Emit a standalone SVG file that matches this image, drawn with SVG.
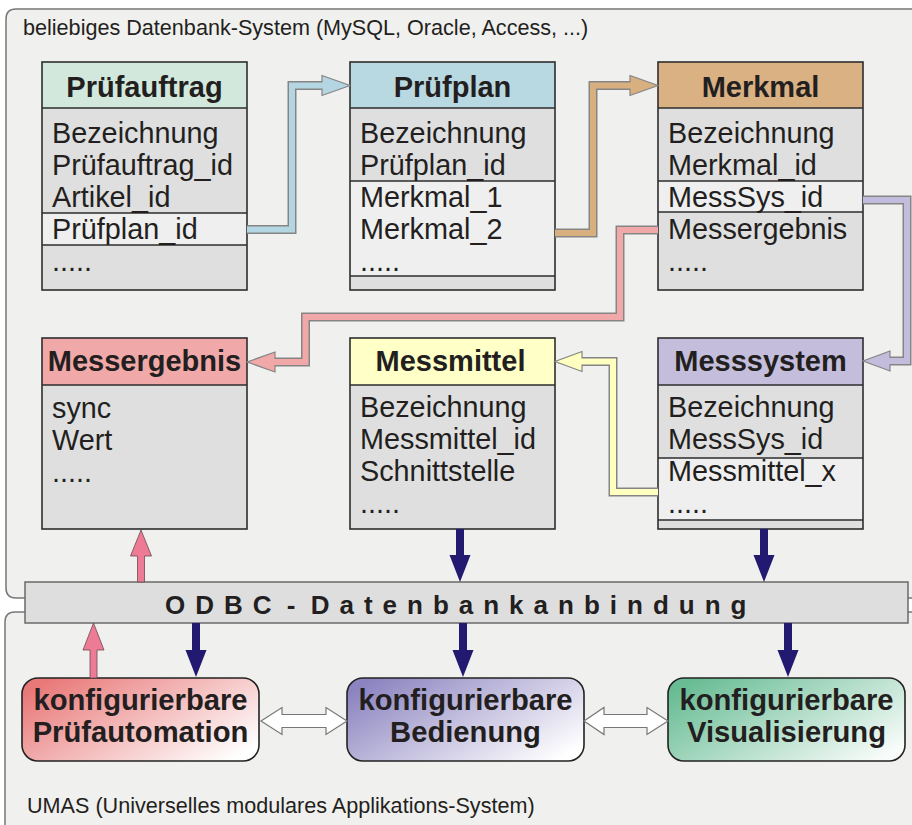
<svg xmlns="http://www.w3.org/2000/svg" width="912" height="825" viewBox="0 0 912 825">
<defs>
<style>
text{font-family:"Liberation Sans",Arial,sans-serif;fill:#231f20}
.lbl{font-size:21.6px}
.hd{font-size:29px;font-weight:bold;text-anchor:middle}
.row{font-size:28.8px}
.bx{font-size:29.2px;font-weight:bold;text-anchor:middle}
.odbc{font-size:26px;font-weight:bold;letter-spacing:10px;word-spacing:-12px}
.tb{stroke:#2e2e2e;stroke-width:1.6}
.body{fill:#dfdfdf}
.hl{fill:#efefef}
.div{stroke:#2e2e2e;stroke-width:1.3;fill:none}
.cont{fill:#f0f0ee;stroke:#777;stroke-width:1.5}
.po{fill:none;stroke:#858585;stroke-width:9;stroke-linejoin:miter}
.pi{fill:none;stroke-width:6;stroke-linejoin:miter}
.ah{stroke:#858585;stroke-width:1.2;stroke-linejoin:miter}
.navy{fill:#221a70}
.pink{fill:#ee7b95;stroke:#6a4a50;stroke-width:0.8}
.dbl{fill:#ffffff;stroke:#777;stroke-width:1.2}
.rb{stroke:#222;stroke-width:1.6}
</style>
<linearGradient id="gRed" x1="0" y1="0.2" x2="1" y2="0.8"><stop offset="0" stop-color="#e97878"/><stop offset="1" stop-color="#ffffff"/></linearGradient>
<linearGradient id="gBlue" x1="0" y1="0.2" x2="1" y2="0.8"><stop offset="0" stop-color="#8c84c0"/><stop offset="1" stop-color="#ffffff"/></linearGradient>
<linearGradient id="gGreen" x1="0" y1="0.2" x2="1" y2="0.8"><stop offset="0" stop-color="#68bc94"/><stop offset="1" stop-color="#f8fcfa"/></linearGradient>
</defs>
<rect width="912" height="825" fill="#ffffff"/>
<g id="container-db">
<path class="cont" d="M6,19 Q6,9 16,9 H925 V598 H16 Q6,598 6,588 Z"/>
<text class="lbl" x="23" y="35">beliebiges Datenbank-System (MySQL, Oracle, Access, ...)</text>
</g>
<g id="container-umas">
<path class="cont" d="M5,622 Q5,612 15,612 H925 V845 H5 Z"/>
<text class="lbl" x="27" y="813">UMAS (Universelles modulares Applikations-System)</text>
</g>
<g id="odbc">
<rect x="25" y="582" width="883" height="41" fill="#dedede" stroke="#6a6a6a" stroke-width="1.5"/>
<text class="odbc" x="165" y="614">ODBC - Datenbankanbindung</text>
</g>
<g id="pruefauftrag">
<rect class="body" x="42" y="62" width="205" height="228"/>
<rect class="hl" x="42" y="213" width="205" height="32"/>
<rect x="42" y="62" width="205" height="46" fill="#d2e8dc"/>
<path class="div" d="M42,108 H247 M42,213 H247 M42,245 H247"/>
<rect class="tb" x="42" y="62" width="205" height="228" fill="none"/>
<text class="hd" x="144.5" y="97">Prüfauftrag</text>
<text class="row" x="52" y="143">Bezeichnung</text>
<text class="row" x="52" y="175">Prüfauftrag_id</text>
<text class="row" x="52" y="207">Artikel_id</text>
<text class="row" x="52" y="239">Prüfplan_id</text>
<text class="row" x="52" y="271">.....</text>
</g>
<g id="pruefplan">
<rect class="body" x="350" y="62" width="205" height="228"/>
<rect class="hl" x="350" y="181" width="205" height="95"/>
<rect x="350" y="62" width="205" height="46" fill="#b8d8e2"/>
<path class="div" d="M350,108 H555 M350,181 H555 M350,276 H555"/>
<rect class="tb" x="350" y="62" width="205" height="228" fill="none"/>
<text class="hd" x="452.5" y="97">Prüfplan</text>
<text class="row" x="360" y="143">Bezeichnung</text>
<text class="row" x="360" y="175">Prüfplan_id</text>
<text class="row" x="360" y="207">Merkmal_1</text>
<text class="row" x="360" y="239">Merkmal_2</text>
<text class="row" x="360" y="271">.....</text>
</g>
<g id="merkmal">
<rect class="body" x="658" y="62" width="205" height="228"/>
<rect class="hl" x="658" y="181" width="205" height="31"/>
<rect x="658" y="62" width="205" height="46" fill="#d9b183"/>
<path class="div" d="M658,108 H863 M658,181 H863 M658,212 H863"/>
<rect class="tb" x="658" y="62" width="205" height="228" fill="none"/>
<text class="hd" x="760.5" y="97">Merkmal</text>
<text class="row" x="668" y="143">Bezeichnung</text>
<text class="row" x="668" y="175">Merkmal_id</text>
<text class="row" x="668" y="207">MessSys_id</text>
<text class="row" x="668" y="239">Messergebnis</text>
<text class="row" x="668" y="271">.....</text>
</g>
<g id="messergebnis">
<rect class="body" x="42" y="338" width="205" height="191"/>
<rect x="42" y="338" width="205" height="47" fill="#f0a8a8"/>
<path class="div" d="M42,385 H247"/>
<rect class="tb" x="42" y="338" width="205" height="191" fill="none"/>
<text class="hd" x="144.5" y="371">Messergebnis</text>
<text class="row" x="52" y="418">sync</text>
<text class="row" x="52" y="450">Wert</text>
<text class="row" x="52" y="482">.....</text>
</g>
<g id="messmittel">
<rect class="body" x="350" y="338" width="205" height="191"/>
<rect x="350" y="338" width="205" height="47" fill="#ffffc8"/>
<path class="div" d="M350,385 H555"/>
<rect class="tb" x="350" y="338" width="205" height="191" fill="none"/>
<text class="hd" x="450.5" y="371">Messmittel</text>
<text class="row" x="360" y="417">Bezeichnung</text>
<text class="row" x="360" y="449">Messmittel_id</text>
<text class="row" x="360" y="481">Schnittstelle</text>
<text class="row" x="360" y="513">.....</text>
</g>
<g id="messsystem">
<rect class="body" x="658" y="338" width="205" height="191"/>
<rect class="hl" x="658" y="458" width="205" height="62"/>
<rect x="658" y="338" width="205" height="47" fill="#c4bedc"/>
<path class="div" d="M658,385 H863 M658,458 H863 M658,520 H863"/>
<rect class="tb" x="658" y="338" width="205" height="191" fill="none"/>
<text class="hd" x="760.5" y="371">Messsystem</text>
<text class="row" x="668" y="417">Bezeichnung</text>
<text class="row" x="668" y="449">MessSys_id</text>
<text class="row" x="668" y="481">Messmittel_x</text>
<text class="row" x="668" y="513">.....</text>
</g>
<g id="pruefautomation">
<rect class="rb" x="22" y="678" width="237" height="83" rx="16" fill="url(#gRed)"/>
<text class="bx" x="140.5" y="710">konfigurierbare</text>
<text class="bx" x="140.5" y="742">Prüfautomation</text>
</g>
<g id="bedienung">
<rect class="rb" x="347" y="678" width="237" height="83" rx="16" fill="url(#gBlue)"/>
<text class="bx" x="465.5" y="710">konfigurierbare</text>
<text class="bx" x="465.5" y="742">Bedienung</text>
</g>
<g id="visualisierung">
<rect class="rb" x="668" y="678" width="237" height="83" rx="16" fill="url(#gGreen)"/>
<text class="bx" x="786.5" y="710">konfigurierbare</text>
<text class="bx" x="786.5" y="742">Visualisierung</text>
</g>
<g id="connectors">
<path class="po" d="M247,229.5 H292 V85.5 H322"/>
<polygon class="ah" fill="#b4d6e2" points="322,75.5 350,85.5 322,95.5"/>
<path class="pi" stroke="#b4d6e2" d="M247,229.5 H292 V85.5 H323.5"/>
<path class="po" d="M555,233 H593 V85.5 H630"/>
<polygon class="ah" fill="#d8b080" points="630,75.5 658,85.5 630,95.5"/>
<path class="pi" stroke="#d8b080" d="M555,233 H593 V85.5 H631.5"/>
<path class="po" d="M658,230 H620 V317 H305.5 V362 H275"/>
<polygon class="ah" fill="#f0a8a8" points="275,352 247,362 275,372"/>
<path class="pi" stroke="#f0a8a8" d="M658,230 H620 V317 H305.5 V362 H273.5"/>
<path class="po" d="M863,200 H907 V361 H890"/>
<polygon class="ah" fill="#c4bcdc" points="890,351 863,361 890,371"/>
<path class="pi" stroke="#c4bcdc" d="M863,200 H907 V361 H888.5"/>
<path class="po" d="M658,492 H613 V361.5 H582"/>
<polygon class="ah" fill="#ffffc0" points="582,351.5 555,361.5 582,371.5"/>
<path class="pi" stroke="#ffffc0" d="M658,492 H613 V361.5 H580.5"/>
<polygon class="navy" points="456,529 464,529 464,555 470.5,555 460,582 449.5,555 456,555"/>
<polygon class="navy" points="760,529 768,529 768,555 774.5,555 764,582 753.5,555 760,555"/>
<polygon class="navy" points="192,623 200,623 200,650 206.5,650 196,677 185.5,650 192,650"/>
<polygon class="navy" points="459,623 467,623 467,650 473.5,650 463,677 452.5,650 459,650"/>
<polygon class="navy" points="784,623 792,623 792,650 798.5,650 788,677 777.5,650 784,650"/>
<polygon class="pink" points="137.5,582 144.5,582 144.5,556 151.5,556 141,530 130.5,556 137.5,556"/>
<polygon class="pink" points="90,678 97,678 97,650 104,650 93.5,623 83,650 90,650"/>
<polygon class="dbl" points="261,721 282,707.5 282,714.5 326,714.5 326,707.5 347,721 326,734.5 326,727.5 282,727.5 282,734.5"/>
<polygon class="dbl" points="584,721 604,707.5 604,714.5 647,714.5 647,707.5 668,721 647,734.5 647,727.5 604,727.5 604,734.5"/>
</g>
</svg>
